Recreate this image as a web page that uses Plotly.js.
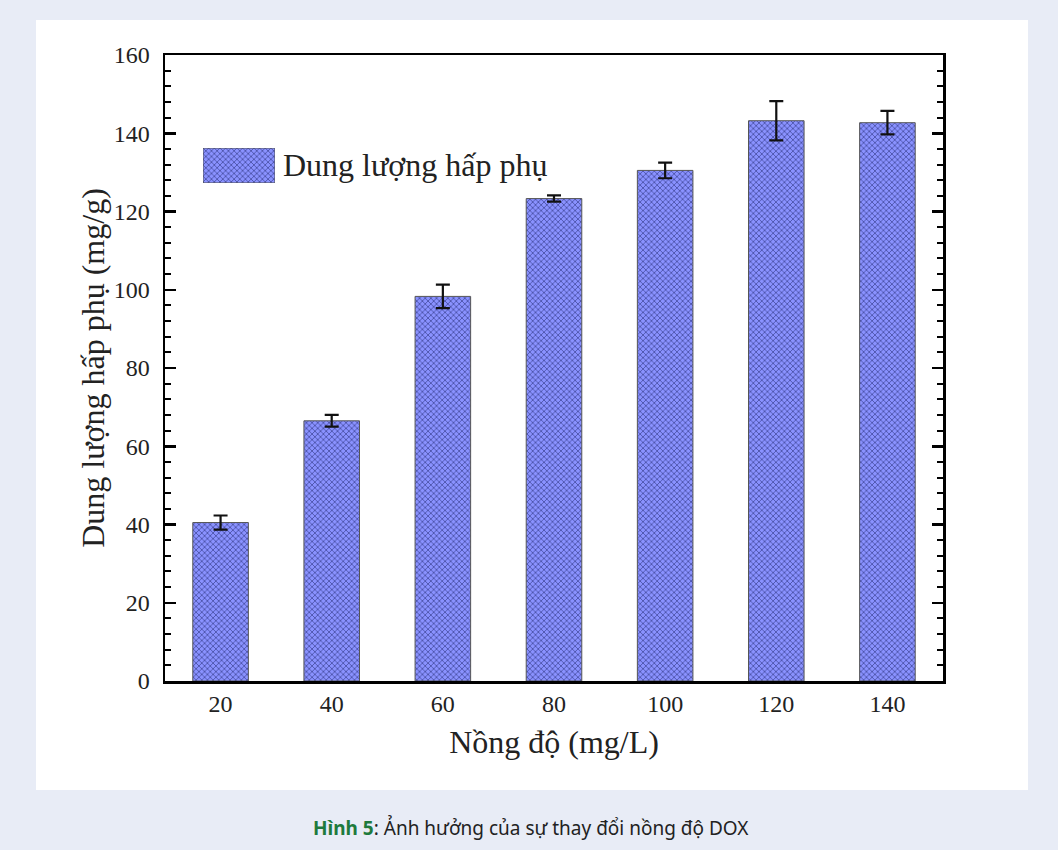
<!DOCTYPE html>
<html>
<head>
<meta charset="utf-8">
<script src="https://cdn.plot.ly/plotly-3.0.1.min.js"></script>
<style>
html,body{margin:0;padding:0;background:#e8ecf6;}
#chart{width:1058px;height:850px;}
</style>
</head>
<body>
<div id="chart"></div>
<script>
var categories = ["20", "40", "60", "80", "100", "120", "140"];
var capacity = [40.5, 66.5, 98.3, 123.3, 130.5, 143.2, 142.7];
var errors = [1.8, 1.5, 3.0, 0.8, 2.0, 5.0, 3.0];
var yTickVals = [0, 20, 40, 60, 80, 100, 120, 140, 160];
var seriesName = "Dung lượng hấp phụ";
var legendSwatch = [1];

var serif = "Liberation Serif, Times New Roman, serif";
var pattern = {shape: "x", fgcolor: "#2e3480", bgcolor: "#8a92ff", size: 4, solidity: 0.28};

// plot area in pixels: x 165..943, y 55..681
var W = 1058, H = 850, L = 165, R = 943, T = 55, B = 681;
function px2x(p){ return (p - L) / (R - L); }
function py2y(p){ return (B - p) / (B - T); }

var traces = [
  {
    type: "bar",
    x: categories,
    y: capacity,
    name: seriesName,
    width: 0.5,
    marker: {color: "#8a92ff", pattern: pattern, line: {color: "#555", width: 1}},
    error_y: {type: "data", array: errors, visible: true, color: "#111", thickness: 2.2, width: 7},
    showlegend: false
  },
  {
    type: "bar",
    x: [0],
    y: legendSwatch,
    xaxis: "x2",
    yaxis: "y2",
    width: 1,
    marker: {color: "#8a92ff", pattern: pattern, line: {color: "#555", width: 1}},
    hoverinfo: "skip",
    showlegend: false
  }
];

var layout = {
  width: W, height: H,
  margin: {l: L, r: W - R, t: T, b: H - B, pad: 0},
  paper_bgcolor: "#e8ecf6",
  plot_bgcolor: "#ffffff",
  showlegend: false,
  bargap: 0.5,
  xaxis: {
    type: "category",
    range: [-0.5, 6.5],
    showline: true, linecolor: "#000", linewidth: 2.5, mirror: true,
    ticks: "", showgrid: false, zeroline: false,
    tickfont: {family: serif, size: 24, color: "#222"},
    ticklabelstandoff: 0,
    title: {text: "Nồng độ (mg/L)", font: {family: serif, size: 32, color: "#222"}, standoff: 15}
  },
  yaxis: {
    range: [0, 160],
    tickvals: yTickVals,
    showline: true, linecolor: "#000", linewidth: 2.5, mirror: "allticks",
    ticks: "inside", ticklen: 11, tickwidth: 2.5, tickcolor: "#000",
    minor: {dtick: 4, ticks: "inside", ticklen: 6, tickwidth: 2, tickcolor: "#000", showgrid: false},
    showgrid: false, zeroline: false,
    tickfont: {family: serif, size: 24, color: "#222"},
    ticklabelstandoff: 8,
    title: {text: "Dung lượng hấp phụ (mg/g)", font: {family: serif, size: 32, color: "#222"}, standoff: 0}
  },
  xaxis2: {
    domain: [px2x(203), px2x(275)], anchor: "y2", range: [-0.5, 0.5],
    visible: false, fixedrange: true
  },
  yaxis2: {
    domain: [py2y(183), py2y(148)], anchor: "x2", range: [0, 1],
    visible: false, fixedrange: true
  },
  shapes: [
    {type: "rect", xref: "paper", yref: "paper", layer: "below",
     x0: px2x(36), x1: px2x(1028), y0: py2y(790), y1: py2y(20),
     fillcolor: "#ffffff", line: {width: 0}}
  ],
  annotations: [
    {xref: "paper", yref: "paper", x: px2x(281), y: py2y(165), xanchor: "left", yanchor: "middle",
     text: seriesName, showarrow: false, font: {family: serif, size: 32, color: "#222"}},
    {xref: "paper", yref: "paper", x: px2x(531), y: py2y(828), xanchor: "center", yanchor: "middle",
     text: "<b><span style='color:#1e7a3c'>Hình 5</span></b>: Ảnh hưởng của sự thay đổi nồng độ DOX",
     showarrow: false, font: {family: "Noto Sans, Open Sans, sans-serif", size: 19, color: "#222"}}
  ]
};

Plotly.newPlot("chart", traces, layout, {displayModeBar: false, staticPlot: true});
</script>
</body>
</html>
